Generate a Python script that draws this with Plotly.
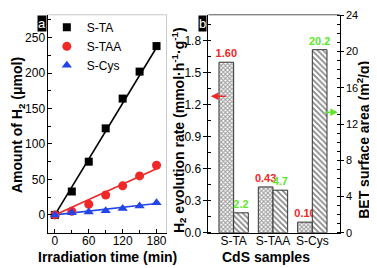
import plotly.graph_objects as go

W, H = 377, 268
def px(x): return x / W
def py(y): return 1 - y / H

# ---------------- data ----------------
time_min = [0, 30, 60, 90, 120, 150, 180]
h2_sta = [0, 33, 75, 122, 164, 202, 238]
h2_staa = [0, 5, 15, 28, 41, 55, 70]
h2_scys = [0, 3, 4, 6, 9, 12.5, 17]
fit_time = [0, 180]
fit_sta = [0, 236]
fit_staa = [0, 65]
fit_scys = [0, 16]

samples = ["S-TA", "S-TAA", "S-Cys"]
h2_rate = [1.60, 0.43, 0.10]
bet_area = [2.2, 4.7, 20.2]

FONT = "Liberation Sans, Arial, sans-serif"
RED = "#f02828"
BLUE = "#2345e8"
GREEN = "#5ee62a"

fig = go.Figure()

# panel a: fit lines
for fx, fy, col in [(fit_time, fit_sta, "black"), (fit_time, fit_staa, RED), (fit_time, fit_scys, BLUE)]:
    fig.add_trace(go.Scatter(x=fx, y=fy, mode="lines", line=dict(color=col, width=1.6),
                             showlegend=False, xaxis="x", yaxis="y", hoverinfo="skip"))
# panel a: markers
for name, ys, col, sym, sz in [("S-TA", h2_sta, "black", "square", 8),
                               ("S-TAA", h2_staa, RED, "circle", 9),
                               ("S-Cys", h2_scys, BLUE, "triangle-up", 9)]:
    fig.add_trace(go.Scatter(x=time_min, y=ys, mode="markers", name=name,
                             marker=dict(color=col, symbol=sym, size=sz, line=dict(width=0)),
                             xaxis="x", yaxis="y", cliponaxis=False))

# panel b: bars
idx = list(range(len(samples)))
BW = 0.373
fig.add_trace(go.Bar(x=idx, y=h2_rate, offset=-BW, width=BW, xaxis="x2", yaxis="y2",
                     showlegend=False,
                     marker=dict(color="white", line=dict(color="#333", width=1),
                                 pattern=dict(shape="x", size=3, solidity=0.6,
                                              fgcolor="#444", bgcolor="white", fillmode="overlay")),
                     text=[f"{v:.2f}" for v in h2_rate], textposition="outside",
                     textfont=dict(color=RED, size=11, family=FONT, weight="bold"),
                     constraintext="none", cliponaxis=False))
fig.add_trace(go.Bar(x=idx, y=bet_area, offset=0, width=BW, xaxis="x2", yaxis="y3",
                     showlegend=False,
                     marker=dict(color="white", line=dict(color="#333", width=1),
                                 pattern=dict(shape="\\", size=4, solidity=0.45,
                                              fgcolor="#111", bgcolor="white", fillmode="overlay")),
                     text=[f"{v:.1f}" for v in bet_area], textposition="outside",
                     textfont=dict(color=GREEN, size=11, family=FONT, weight="bold"),
                     constraintext="none", cliponaxis=False))

YD = [py(231.7), py(7)]
tickfont = dict(family=FONT, size=12, color="black")
common = dict(showline=True, linecolor="black", linewidth=1, showgrid=False, zeroline=False,
              tickcolor="black", ticklabeloverflow="allow", automargin=False)

fig.update_layout(
    width=W, height=H, margin=dict(l=0, r=11, t=0, b=8),
    paper_bgcolor="white", plot_bgcolor="white",
    font=dict(family=FONT, size=12, color="black"),
    barmode="overlay",
    xaxis=dict(domain=[px(41.7), px(163.3)], range=[-11.3, 197.7], tick0=0, dtick=60,
               ticks="inside", ticklen=4, anchor="y", tickfont=tickfont, ticklabelstandoff=-3,
               minor=dict(tick0=0, dtick=30, ticks="inside", ticklen=3, tickcolor="black"), **common),
    yaxis=dict(domain=YD, range=[-25.2, 282.1], tick0=0, dtick=50, tickfont=tickfont,
               ticks="inside", ticklen=4, anchor="x",
               minor=dict(tick0=0, dtick=25, ticks="inside", ticklen=3, tickcolor="black"), **common),
    xaxis2=dict(domain=[px(206.5), px(341.7)], range=[-0.64, 2.697], tickmode="array",
                tickvals=idx, ticktext=samples, ticks="", anchor="y2", tickfont=tickfont,
                ticklabelstandoff=-3, **common),
    yaxis2=dict(domain=YD, range=[0, 2.045], tick0=0, dtick=0.3, tickfont=tickfont,
                tickformat=".1f", ticks="outside", ticklen=4, anchor="x2",
                minor=dict(tick0=0, dtick=0.15, ticks="inside", ticklen=3, tickcolor="black"), **common),
    yaxis3=dict(domain=YD, range=[0, 24.05], tick0=0, dtick=4,
                tickfont=dict(family=FONT, size=11, color="black"),
                ticks="outside", ticklen=3, anchor="x2", overlaying="y2", side="right",
                minor=dict(tick0=0, dtick=1, ticks="inside", ticklen=3, tickcolor="black"), **common),
    legend=dict(x=px(40), y=py(5), xanchor="left", yanchor="top", bgcolor="rgba(0,0,0,0)",
                font=dict(family=FONT, size=12, color="black"), tracegroupgap=0),
)

# frame lines (top/right of panel a, top of panel b)
fig.add_shape(type="line", xref="x domain", yref="y domain", x0=0, x1=1, y0=1, y1=1,
              line=dict(color="#c8c8c8", width=1))
fig.add_shape(type="line", xref="x domain", yref="y domain", x0=1, x1=1, y0=0, y1=1,
              line=dict(color="#c8c8c8", width=1))
fig.add_shape(type="line", xref="x2 domain", yref="y2 domain", x0=0, x1=1, y0=1, y1=1,
              line=dict(color="#555", width=1))

bold = dict(family=FONT, size=14, color="black", weight="bold")
ann = [
    dict(text="Amount of H<sub>2</sub> (μmol)", x=px(11), y=py(121), textangle=-90),
    dict(text="Irradiation time (min)", x=px(102.5), y=py(257)),
    dict(text="H<sub>2</sub> evolution rate (mmol·h<sup>-1</sup>·g<sup>-1</sup>)", x=px(176), y=py(126), textangle=-90),
    dict(text="BET surface area (m<sup>2</sup>/g)", x=px(365.5), y=py(136), textangle=-90),
    dict(text="CdS samples", x=px(266), y=py(257)),
]
for a in ann:
    fig.add_annotation(xref="paper", yref="paper", showarrow=False, font=bold,
                       xanchor="center", yanchor="middle", **a)

for t, cx in [("a", 35.5), ("b", 200)]:
    fig.add_annotation(text=t, xref="paper", yref="paper", x=px(cx), y=py(15.5), showarrow=False,
                       bgcolor="black", font=dict(family=FONT, size=13, color="white"),
                       xanchor="center", yanchor="middle", borderpad=0)

# arrows
fig.add_annotation(xref="x2", yref="y2", x=-0.58, y=1.28, ax=-0.16, ay=1.28, axref="x2", ayref="y2",
                   text="", showarrow=True, arrowhead=2, arrowsize=1, arrowwidth=1.5, arrowcolor=RED)
fig.add_annotation(xref="x2", yref="y3", x=2.65, y=13.3, ax=2.28, ay=13.3, axref="x2", ayref="y3",
                   text="", showarrow=True, arrowhead=2, arrowsize=1, arrowwidth=1.5, arrowcolor=GREEN)

fig.write_html("out.html")
